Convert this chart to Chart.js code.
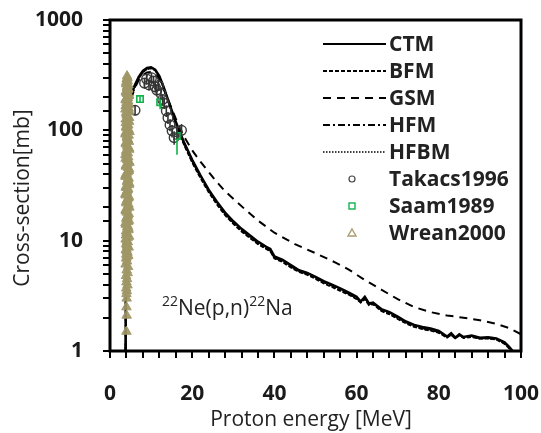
<!DOCTYPE html>
<html><head><meta charset="utf-8">
<script src="https://cdn.jsdelivr.net/npm/chart.js@4.4.1/dist/chart.umd.min.js"></script>
<style>html,body{margin:0;padding:0;background:#fff}#wrap{width:541px;height:433px}</style>
</head><body><div id="wrap"><canvas id="c" width="541" height="433"></canvas></div>
<script>
// ---- data ----
const modelEnergy = [3.8,3.9,4.0,4.3,5,6,7,8,9,10,11,12,13,14,15,16,17,18,20,22,24,26,28,30,32,34,36,38,39,40,42,44,46,48,50,52,54,56,58,60,61,62,63,64,66,68,70,72,74,76,78,80,82,83,84,85,86,88,90,92,94,96,97,98];
const ctmXS = [1.0,8,45,120,200,255,305,345,368,372,355,310,250,195,152,120,96,78,54,39,29,22.5,18,15,12.8,11.2,9.8,8.8,8.4,7.2,6.7,6.0,5.4,5.1,4.7,4.3,4.0,3.7,3.4,3.1,2.8,3.1,2.7,2.75,2.4,2.25,2.05,1.85,1.72,1.65,1.6,1.52,1.35,1.45,1.32,1.42,1.34,1.38,1.32,1.33,1.3,1.2,1.1,1.0];
const bfmXS = [1.0,7,40,110,190,245,295,335,360,365,350,305,245,190,147,115,92,74,51,37,27.5,21.3,17,14.2,12.1,10.6,9.3,8.4,8.0,6.9,6.4,5.7,5.2,4.9,4.5,4.1,3.8,3.5,3.25,2.95,2.75,2.95,2.6,2.65,2.3,2.15,1.95,1.78,1.65,1.58,1.53,1.46,1.32,1.4,1.3,1.38,1.31,1.34,1.29,1.3,1.27,1.16,1.07,0.98];
const hfmXS = [1.0,7.5,42,115,195,250,300,340,362,368,352,308,248,192,150,117,94,76,52.5,38,28.3,22,17.5,14.6,12.4,10.9,9.5,8.6,8.1,7.0,6.5,5.85,5.3,5.0,4.6,4.2,3.9,3.6,3.3,3.0,2.78,3.0,2.65,2.7,2.35,2.2,2.0,1.82,1.68,1.6,1.56,1.48,1.34,1.42,1.31,1.4,1.33,1.36,1.3,1.31,1.28,1.18,1.08,0.99];
const hfbmXS = [1.0,7.2,41,112,192,248,298,338,361,366,351,306,246,191,148,116,93,75,52,37.5,28,21.6,17.2,14.4,12.2,10.7,9.4,8.5,8.05,6.95,6.45,5.8,5.25,4.95,4.55,4.15,3.85,3.55,3.28,2.98,2.76,2.97,2.62,2.68,2.32,2.17,1.97,1.8,1.66,1.59,1.54,1.47,1.33,1.41,1.3,1.39,1.32,1.35,1.29,1.3,1.27,1.17,1.07,0.98];
const gsmEnergy = [3.8,3.9,4.0,4.3,5,6,7,8,9,10,11,12,13,14,15,16,17,18,20,22,24,26,28,30,33,36,40,45,50,55,58,62,66,70,74,78,82,86,90,94,97,100];
const gsmXS = [1.0,7,40,110,185,240,285,318,335,338,325,290,240,195,158,128,105,88,66,52,42,34,28,24,19,15.2,11.8,9.3,7.7,6.3,5.5,4.4,3.6,2.95,2.5,2.25,2.1,2.0,1.9,1.76,1.62,1.42];

const takacsEnergy = [6.1,8.4,8.9,9.5,10.1,10.6,11.0,11.4,11.8,12.4,12.8,13.2,13.7,14.1,14.6,15.1,15.6,16.3,17.4];
const takacsXS = [152,268,292,258,300,280,248,232,255,215,190,176,150,130,112,99,86,97,100];
const takacsErr = [15,30,32,28,33,30,28,26,28,24,22,20,18,16,14,13,12,13,14];

const saamEnergy = [7.3,12.2,16.3];
const saamXS = [192,180,89];
const saamErrLo = [12,25,29];
const saamErrHi = [12,15,10];

const wreanEnergy = [
  4.15,4.05,4.3,3.95,4.2,4.45,3.85,4.1,4.6,4.35,3.8,4.0,4.55,4.25,3.75,4.7,4.05,4.4,3.8,4.65,
  4.2,3.9,4.5,4.75,3.75,4.1,4.35,4.6,3.85,4.25,4.7,4.0,3.75,4.45,4.15,4.75,3.85,4.35,4.6,4.05,
  3.75,4.5,4.2,4.7,3.9,4.4,4.1,3.75,4.6,4.25,3.95,4.5,4.7,3.8,4.15,4.4,4.0,4.6,3.75,4.3,
  4.5,3.9,4.15,4.65,3.8,4.35,4.05,4.55,3.85,4.25,4.45,3.95,4.15,3.8,4.4,4.05,4.3,3.9,4.15,4.0,
  4.25,3.95,4.1,4.0,4.05,4.0,4.05,4.0,
  4.25,3.9,4.5,4.1,4.35,3.95,4.6,4.2,3.85,4.45,4.15,3.8,4.55,4.3,3.9,4.05,4.65,4.2,3.85,4.45,
  4.0,4.3,3.8,4.55,4.1,4.4,3.85,4.2,4.6,3.95,4.35,4.05,3.8,4.5,4.2,3.9,4.65,4.3,4.0,3.8,
  4.45,4.15,4.6,3.9,4.3,4.05,3.8,4.5,4.2,3.95,4.4,4.1,3.85,4.55,4.25,4.0,4.4,3.85,4.2,4.5,
  4.05,3.9,4.3,4.1,3.95,4.2,4.0,4.1,3.95,4.05];
const wreanXS = [
  310,290,280,262,250,238,225,215,205,196,188,178,170,162,155,148,140,133,126,120,
  114,108,102,97,92,88,83,79,75,71,67,64,60,57,54,51,48,46,43,41,
  39,37,35,33,31,29.5,28,26.5,25,23.8,22.5,21.3,20,19,18,17,16.1,15.2,14.4,13.6,
  12.9,12.2,11.5,10.9,10.3,9.7,9.2,8.7,8.2,7.8,7.3,6.9,6.5,6.1,5.8,5.4,5.1,4.8,4.5,4.2,
  3.95,3.7,3.5,3.3,3.0,2.5,2.1,1.5,
  300,272,258,244,232,220,210,200,192,183,174,166,158,151,144,137,130,123,117,111,
  105,100,95,90,85,81,77,73,69,65.5,62,58.5,55.5,52.5,49.5,47,44.5,42,40,38,
  36,34,32,30.2,28.7,27.2,25.8,24.4,23.1,21.9,20.6,19.5,18.5,17.5,16.5,15.6,14.8,14,13.2,12.5,
  11.8,11.2,10.6,10,9.4,8.9,8.4,8.0,7.5,7.1];

const xTicksMajor = [0,20,40,60,80,100];
const yTicksMajor = [1,10,100,1000];

const FONT = "'Open Sans', 'DejaVu Sans', sans-serif";
const OLIVE = 'rgba(160,151,102,0.92)';
const GREEN = '#12b34a';

const pts = (E, V) => E.map((e, i) => ({x: e, y: V[i]}));
const line = (label, E, V, dash, w, order) => ({
  type: 'line', label, data: pts(E, V), borderColor: '#000', borderWidth: w,
  borderDash: dash, pointRadius: 0, fill: false, tension: 0, order
});

const datasets = [
  {type:'scatter', label:'Wrean2000', data: pts(wreanEnergy, wreanXS), pointStyle:'triangle',
   pointRadius:5.5, borderColor: OLIVE, backgroundColor: OLIVE, borderWidth:1, order:0},
  {type:'scatter', label:'Saam1989', data: pts(saamEnergy, saamXS), pointStyle:'rect',
   pointRadius:4.5, borderColor: GREEN, backgroundColor:'rgba(0,0,0,0)', borderWidth:1.6, order:1,
   errLo: saamErrLo, errHi: saamErrHi, errColor: GREEN},
  {type:'scatter', label:'Takacs1996', data: pts(takacsEnergy, takacsXS), pointStyle:'circle',
   pointRadius:4.8, borderColor:'#3a3a3a', backgroundColor:'rgba(0,0,0,0)', borderWidth:1.4, order:2,
   errLo: takacsErr, errHi: takacsErr, errColor:'#333'},
  line('HFBM', modelEnergy, hfbmXS, [1.5,1.5], 1.5, 3),
  line('HFM', modelEnergy, hfmXS, [7,3,2,3], 1.8, 4),
  line('GSM', gsmEnergy, gsmXS, [8,6], 2, 5),
  line('BFM', modelEnergy, bfmXS, [4,2], 1.8, 6),
  line('CTM', modelEnergy, ctmXS, [], 2.5, 7)
];

const errorBars = {
  id: 'errorBars',
  afterDatasetsDraw(chart) {
    const {ctx, scales: {x, y}} = chart;
    ctx.save();
    chart.data.datasets.forEach(d => {
      if (!d.errLo) return;
      ctx.strokeStyle = d.errColor; ctx.lineWidth = 1.6;
      d.data.forEach((p, j) => {
        const px = x.getPixelForValue(p.x);
        ctx.beginPath();
        ctx.moveTo(px, y.getPixelForValue(p.y - d.errLo[j]));
        ctx.lineTo(px, y.getPixelForValue(p.y + d.errHi[j]));
        ctx.stroke();
      });
    });
    ctx.restore();
  }
};

const decor = {
  id: 'decor',
  afterDraw(chart) {
    const {ctx, chartArea: a} = chart;
    ctx.save();
    // frame
    ctx.strokeStyle = '#000'; ctx.lineWidth = 3;
    ctx.strokeRect(a.left, a.top, a.right - a.left, a.bottom - a.top);
    // axis titles
    ctx.fillStyle = '#222';
    ctx.font = `21px ${FONT}`;
    ctx.textAlign = 'center'; ctx.textBaseline = 'middle';
    ctx.fillText('Proton energy [MeV]', 311, 420);
    ctx.save(); ctx.translate(23, 198); ctx.rotate(-Math.PI / 2);
    ctx.fillText('Cross-section[mb]', 0, 0); ctx.restore();
    // reaction label
    ctx.textAlign = 'left'; ctx.textBaseline = 'alphabetic';
    let tx = 162; const by = 315;
    const parts = [['22', true], ['Ne(p,n)', false], ['22', true], ['Na', false]];
    parts.forEach(([t, sup]) => {
      ctx.font = sup ? `14px ${FONT}` : `21px ${FONT}`;
      ctx.fillText(t, tx, sup ? by - 9 : by);
      tx += ctx.measureText(t).width;
    });
    // legend
    const items = [
      ['CTM','line',[]], ['BFM','line',[4,2]], ['GSM','line',[8,6]], ['HFM','line',[7,3,2,3]],
      ['HFBM','line',[1.5,1.5]], ['Takacs1996','circle'], ['Saam1989','rect'], ['Wrean2000','tri']
    ];
    ctx.font = `bold 21px ${FONT}`; ctx.textBaseline = 'middle';
    items.forEach((it, i) => {
      const yy = 44 + 27 * i;
      ctx.fillStyle = '#222';
      ctx.fillText(it[0], 389, yy + 1);
      ctx.lineWidth = 1.8;
      if (it[1] === 'line') {
        ctx.strokeStyle = '#000'; ctx.setLineDash(it[2]);
        ctx.lineWidth = it[0] === 'CTM' ? 2.2 : (it[0] === 'HFBM' ? 1.4 : 1.8);
        ctx.beginPath(); ctx.moveTo(323, yy); ctx.lineTo(386, yy); ctx.stroke();
        ctx.setLineDash([]);
      } else if (it[1] === 'circle') {
        ctx.strokeStyle = '#444'; ctx.lineWidth = 1.2;
        ctx.beginPath(); ctx.arc(352, yy, 3, 0, Math.PI * 2); ctx.stroke();
      } else if (it[1] === 'rect') {
        ctx.strokeStyle = GREEN; ctx.lineWidth = 1.4;
        ctx.strokeRect(349, yy - 3, 6, 6);
      } else {
        ctx.strokeStyle = OLIVE; ctx.lineWidth = 1.4;
        ctx.beginPath(); ctx.moveTo(352, yy - 4); ctx.lineTo(356, yy + 3); ctx.lineTo(348, yy + 3); ctx.closePath(); ctx.stroke();
      }
    });
    ctx.restore();
  }
};

new Chart(document.getElementById('c'), {
  data: { datasets },
  options: {
    responsive: false, animation: false, devicePixelRatio: 1,
    layout: { padding: { left: 0, right: 20, top: 20, bottom: 0 } },
    plugins: { legend: { display: false }, tooltip: { enabled: false } },
    scales: {
      x: {
        type: 'linear', min: 0, max: 100,
        border: { display: false },
        grid: { drawOnChartArea: false, drawTicks: true, tickLength: 7, color: '#000', lineWidth: 2 },
        ticks: {
          stepSize: 4, autoSkip: false, maxRotation: 0, padding: 23, color: '#1a1a1a',
          font: { family: FONT, size: 21, weight: 'bold' },
          callback: v => xTicksMajor.includes(v) ? String(v) : ''
        },
        afterFit: s => { s.height = 82; s.paddingLeft = 0; s.paddingRight = 0; }
      },
      y: {
        type: 'logarithmic', min: 1, max: 1000,
        border: { display: false },
        grid: { drawOnChartArea: false, drawTicks: true, tickLength: 7, color: '#000', lineWidth: 2 },
        ticks: {
          autoSkip: false, padding: 20, color: '#1a1a1a',
          font: { family: FONT, size: 21, weight: 'bold' },
          callback: v => yTicksMajor.includes(v) ? String(v) : ''
        },
        afterFit: s => { s.width = 110; s.paddingTop = 0; s.paddingBottom = 0; }
      }
    }
  },
  plugins: [errorBars, decor]
});
</script></body></html>
